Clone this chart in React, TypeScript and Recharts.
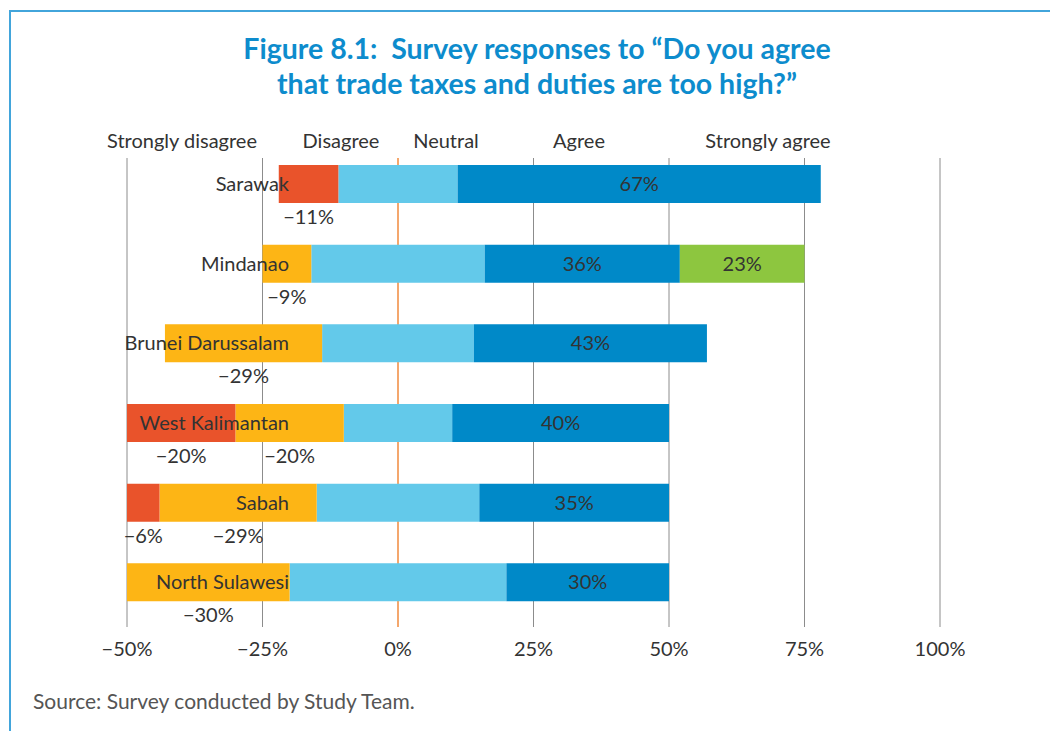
import React from "react";
import {
  BarChart, Bar, XAxis, YAxis, CartesianGrid, LabelList
} from "recharts";

const categories = ["Sarawak", "Mindanao", "Brunei Darussalam", "West Kalimantan", "Sabah", "North Sulawesi"];
const stronglyDisagree = [11, 0, 0, 20, 6, 0];
const disagree = [0, 9, 29, 20, 29, 30];
const neutral = [22, 32, 28, 20, 30, 40];
const agree = [67, 36, 43, 40, 35, 30];
const stronglyAgree = [0, 23, 0, 0, 0, 0];

const xTicks = [-50, -25, 0, 25, 50, 75, 100];
const headers = [
  { text: "Strongly disagree", left: 182 },
  { text: "Disagree", left: 341 },
  { text: "Neutral", left: 446 },
  { text: "Agree", left: 579 },
  { text: "Strongly agree", left: 768 },
];

const RED = "#e9532b";
const ORANGE = "#fdb515";
const LIGHT = "#63c9ea";
const DARK = "#0089c8";
const GREEN = "#8dc63f";
const TEXT = "#333333";
const FONT = "Lato, 'Open Sans', sans-serif";
const FS = 20;

// neutral is split in half across zero, disagree sides go negative
const data = categories.map((name, i) => ({
  name,
  nl: -neutral[i] / 2,
  nr: neutral[i] / 2,
  d: -disagree[i],
  a: agree[i],
  sd: -stronglyDisagree[i],
  sa: stronglyAgree[i],
}));

const pct = (v: number) => (v < 0 ? `\u2212${-v}%` : `${v}%`);

const BelowLabel = (props: any) => {
  const { x, y, width, height, value } = props;
  if (!value) return null;
  return (
    <text x={x + width / 2} y={y + height + 14} textAnchor="middle" dy="0.35em"
      fill={TEXT} fontSize={FS}>
      {pct(value)}
    </text>
  );
};

const InsideLabel = (props: any) => {
  const { x, y, width, height, value } = props;
  if (!value) return null;
  return (
    <text x={x + width / 2} y={y + height / 2} textAnchor="middle" dy="0.35em"
      fill={TEXT} fontSize={FS}>
      {pct(value)}
    </text>
  );
};

const CategoryTick = (props: any) => {
  const { y, payload } = props;
  return (
    <text x={289} y={y} textAnchor="end" dy="0.35em" fill={TEXT} fontSize={FS}>
      {payload.value}
    </text>
  );
};

const GridLine = (props: any) => {
  const { x1, y1, x2, y2, index } = props;
  const zero = index === 2;
  return (
    <line key={`g-${index}`} x1={x1} y1={y1} x2={x2} y2={y2}
      stroke={zero ? "#f08a3c" : "#8c8c8c"} strokeWidth={zero ? 1.5 : 1} />
  );
};

export default function App() {
  return (
    <div style={{ position: "absolute", left: 0, top: 0, width: 1050, height: 731, background: "#fff", fontFamily: FONT, overflow: "hidden" }}>
      <div style={{ position: "absolute", left: 9, top: 10, width: 1050, height: 731, borderTop: "2px solid #42a5db", borderLeft: "2px solid #42a5db" }} />
      <div style={{ position: "absolute", left: 0, top: 31, width: 1074, textAlign: "center", color: "#0d8ccd", fontSize: 28.5, fontWeight: 700, lineHeight: "35px" }}>
        Figure 8.1:&nbsp; Survey responses to “Do you agree<br />that trade taxes and duties are too high?”
      </div>
      {headers.map((h) => (
        <div key={h.text} style={{ position: "absolute", left: h.left, top: 128, transform: "translateX(-50%)", whiteSpace: "nowrap", color: TEXT, fontSize: FS }}>
          {h.text}
        </div>
      ))}
      <div style={{ position: "absolute", left: 33, top: 688, color: "#555", fontSize: 21 }}>
        Source: Survey conducted by Study Team.
      </div>
      <div style={{ position: "absolute", left: 0, top: 0 }}>
        <BarChart width={1050} height={731} data={data} layout="vertical" stackOffset="sign"
          barSize={38} margin={{ top: 144, right: 110, bottom: 79, left: 126 }}>
          <CartesianGrid horizontal={false} vertical={GridLine} y={158} height={469} />
          <XAxis type="number" domain={[-50, 100]} ticks={xTicks} tickFormatter={pct}
            axisLine={false} tickLine={false} tickMargin={14} interval={0} height={30}
            tick={{ fill: TEXT, fontSize: FS }} />
          <YAxis type="category" dataKey="name" width={1} axisLine={false} tickLine={false}
            tick={CategoryTick} interval={0} />
          <Bar dataKey="nl" stackId="s" fill={LIGHT} isAnimationActive={false} />
          <Bar dataKey="nr" stackId="s" fill={LIGHT} isAnimationActive={false} />
          <Bar dataKey="d" stackId="s" fill={ORANGE} isAnimationActive={false}>
            <LabelList dataKey="d" content={BelowLabel} />
          </Bar>
          <Bar dataKey="a" stackId="s" fill={DARK} isAnimationActive={false}>
            <LabelList dataKey="a" content={InsideLabel} />
          </Bar>
          <Bar dataKey="sd" stackId="s" fill={RED} isAnimationActive={false}>
            <LabelList dataKey="sd" content={BelowLabel} />
          </Bar>
          <Bar dataKey="sa" stackId="s" fill={GREEN} isAnimationActive={false}>
            <LabelList dataKey="sa" content={InsideLabel} />
          </Bar>
        </BarChart>
      </div>
    </div>
  );
}
